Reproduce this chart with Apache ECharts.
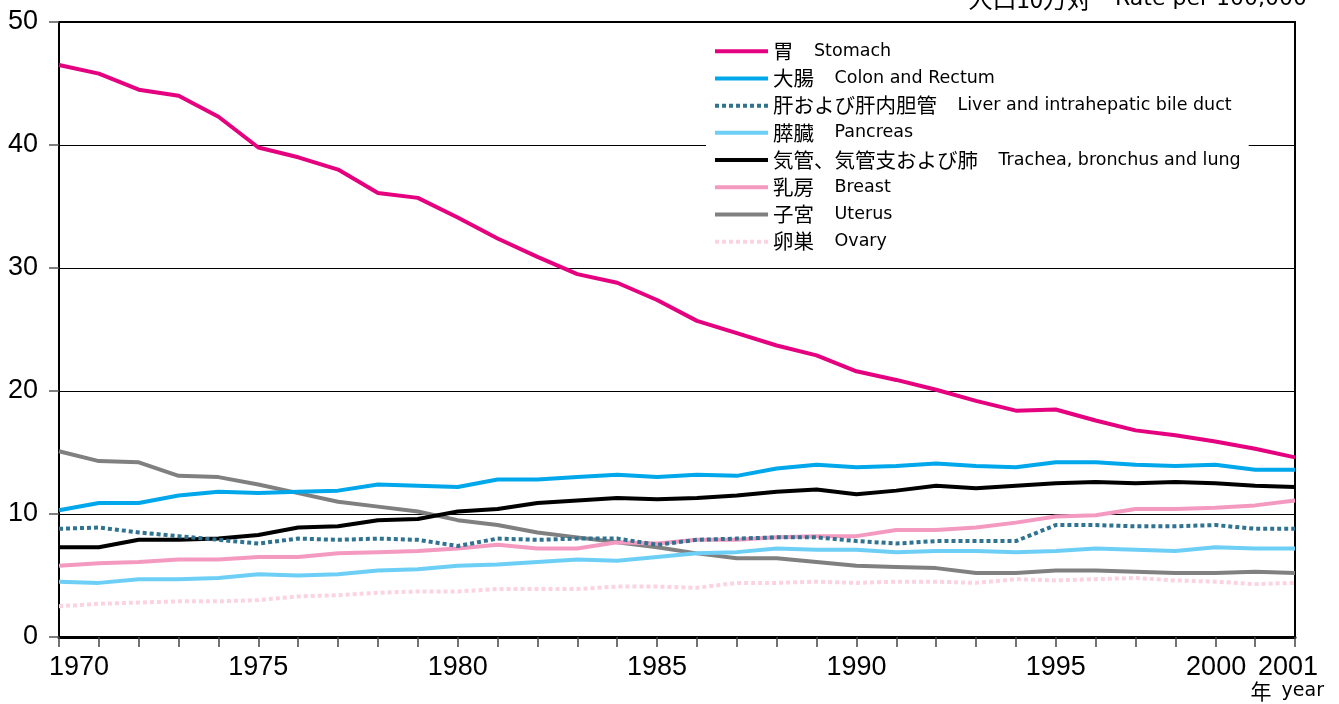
<!DOCTYPE html>
<html>
<head>
<meta charset="utf-8">
<title>部位別がん死亡率</title>
<script src="https://cdn.jsdelivr.net/npm/echarts@6/dist/echarts.min.js"></script>
<style>
  html, body { margin: 0; padding: 0; background: #fff; }
  #chart { width: 1339px; height: 704px; }
</style>
</head>
<body>
<div id="chart"></div>
<script>
// 年 (x軸)
var years = [1970, 1971, 1972, 1973, 1974, 1975, 1976, 1977, 1978, 1979,
  1980, 1981, 1982, 1983, 1984, 1985, 1986, 1987, 1988, 1989,
  1990, 1991, 1992, 1993, 1994, 1995, 1996, 1997, 1998, 1999, 2000, 2001];
var yearLabels = [1970, 1975, 1980, 1985, 1990, 1995, 2000, 2001];

// 人口10万対
var stomach = [46.5, 45.8, 44.5, 44.0, 42.3, 39.8, 39.0, 38.0, 36.1, 35.7,
  34.1, 32.4, 30.9, 29.5, 28.8, 27.4, 25.7, 24.7, 23.7, 22.9,
  21.6, 20.9, 20.1, 19.2, 18.4, 18.5, 17.6, 16.8, 16.4, 15.9, 15.3, 14.6];
var colon = [10.3, 10.9, 10.9, 11.5, 11.8, 11.7, 11.8, 11.9, 12.4, 12.3,
  12.2, 12.8, 12.8, 13.0, 13.2, 13.0, 13.2, 13.1, 13.7, 14.0,
  13.8, 13.9, 14.1, 13.9, 13.8, 14.2, 14.2, 14.0, 13.9, 14.0, 13.6, 13.6];
var liver = [8.8, 8.9, 8.5, 8.2, 7.9, 7.6, 8.0, 7.9, 8.0, 7.9,
  7.4, 8.0, 7.9, 8.0, 8.0, 7.5, 7.9, 8.0, 8.1, 8.1,
  7.8, 7.6, 7.8, 7.8, 7.8, 9.1, 9.1, 9.0, 9.0, 9.1, 8.8, 8.8];
var pancreas = [4.5, 4.4, 4.7, 4.7, 4.8, 5.1, 5.0, 5.1, 5.4, 5.5,
  5.8, 5.9, 6.1, 6.3, 6.2, 6.5, 6.8, 6.9, 7.2, 7.1,
  7.1, 6.9, 7.0, 7.0, 6.9, 7.0, 7.2, 7.1, 7.0, 7.3, 7.2, 7.2];
var lung = [7.3, 7.3, 7.9, 7.9, 8.0, 8.3, 8.9, 9.0, 9.5, 9.6,
  10.2, 10.4, 10.9, 11.1, 11.3, 11.2, 11.3, 11.5, 11.8, 12.0,
  11.6, 11.9, 12.3, 12.1, 12.3, 12.5, 12.6, 12.5, 12.6, 12.5, 12.3, 12.2];
var breast = [5.8, 6.0, 6.1, 6.3, 6.3, 6.5, 6.5, 6.8, 6.9, 7.0,
  7.2, 7.5, 7.2, 7.2, 7.7, 7.6, 7.9, 7.9, 8.1, 8.2,
  8.2, 8.7, 8.7, 8.9, 9.3, 9.8, 9.9, 10.4, 10.4, 10.5, 10.7, 11.1];
var uterus = [15.1, 14.3, 14.2, 13.1, 13.0, 12.4, 11.7, 11.0, 10.6, 10.2,
  9.5, 9.1, 8.5, 8.1, 7.7, 7.3, 6.8, 6.4, 6.4, 6.1,
  5.8, 5.7, 5.6, 5.2, 5.2, 5.4, 5.4, 5.3, 5.2, 5.2, 5.3, 5.2];
var ovary = [2.5, 2.7, 2.8, 2.9, 2.9, 3.0, 3.3, 3.4, 3.6, 3.7,
  3.7, 3.9, 3.9, 3.9, 4.1, 4.1, 4.0, 4.4, 4.4, 4.5,
  4.4, 4.5, 4.5, 4.4, 4.7, 4.6, 4.7, 4.8, 4.6, 4.5, 4.3, 4.4];

var seriesNames = [
  ['胃', 'Stomach'],
  ['大腸', 'Colon and Rectum'],
  ['肝および肝内胆管', 'Liver and intrahepatic bile duct'],
  ['膵臓', 'Pancreas'],
  ['気管、気管支および肺', 'Trachea, bronchus and lung'],
  ['乳房', 'Breast'],
  ['子宮', 'Uterus'],
  ['卵巣', 'Ovary']
];
var seriesData = [stomach, colon, liver, pancreas, lung, breast, uterus, ovary];
var colors = ['#e5007f', '#00a7ea', '#2f7390', '#6dcff6', '#000000', '#f49ac1', '#808080', '#fcd3e1'];
var lineTypes = ['solid', 'solid', [4, 3], 'solid', 'solid', 'solid', 'solid', [4, 3]];

var FONT = '"Liberation Sans", "Noto Sans CJK JP", sans-serif';
var FONT_EN = '"DejaVu Sans", "Noto Sans CJK JP", sans-serif';
var FONT_JA = '"Noto Sans CJK JP", sans-serif';

function pairs(values) {
  var res = [];
  for (var i = 0; i < years.length; i++) {
    res.push([years[i], values[i]]);
  }
  return res;
}

var series = [];
for (var i = seriesData.length - 1; i >= 0; i--) {
  series.push({
    name: seriesNames[i][0],
    type: 'line',
    symbol: 'none',
    data: pairs(seriesData[i]),
    z: 10 - i,
    lineStyle: { color: colors[i], width: 4, type: lineTypes[i] },
    itemStyle: { color: colors[i] }
  });
}

var enName = {};
seriesNames.forEach(function (n) { enName[n[0]] = n[1]; });

var myChart = echarts.init(document.getElementById('chart'));
var option = {
  animation: false,
  backgroundColor: '#fff',
  textStyle: { fontFamily: FONT },
  grid: {
    left: 59, right: 44, top: 22, bottom: 67,
    containLabel: false,
    outerBoundsMode: 'none',
    show: true,
    borderColor: '#000',
    borderWidth: 2
  },
  legend: {
    orient: 'vertical',
    left: 706,
    top: 39,
    padding: [2, 8, 4, 7],
    backgroundColor: '#fff',
    itemWidth: 53,
    itemHeight: 14,
    itemGap: 6.7,
    z: 20,
    itemStyle: { opacity: 0 },
    lineStyle: { width: 4 },
    data: seriesNames.map(function (n) { return n[0]; }),
    formatter: function (name) {
      return '{ja|' + name + '　}{en|' + enName[name] + '}';
    },
    textStyle: {
      rich: {
        ja: { fontFamily: FONT_JA, fontSize: 20.5, color: '#000', lineHeight: 18 },
        en: { fontFamily: FONT_EN, fontSize: 17.5, color: '#000', lineHeight: 18 }
      }
    }
  },
  xAxis: {
    type: 'value',
    min: 1970,
    max: 2001,
    interval: 1,
    axisLine: { show: true, lineStyle: { color: '#000', width: 3 } },
    axisTick: { show: true, inside: false, length: 10, lineStyle: { color: '#444', width: 1.5 } },
    splitLine: { show: false },
    axisLabel: {
      margin: 17,
      color: '#000',
      fontSize: 27,
      fontFamily: FONT,
      formatter: function (v) {
        if (yearLabels.indexOf(v) < 0) return '';
        if (v === 1970) return '{f|' + v + '}';
        if (v === 2000) return '{s|' + v + '}';
        if (v === 2001) return '{e|' + v + '}';
        return String(v);
      },
      rich: {
        f: { fontSize: 27, fontFamily: FONT, color: '#000', padding: [0, 0, 0, 40] },
        s: { fontSize: 27, fontFamily: FONT, color: '#000', padding: [0, 78, 0, 0] },
        e: { fontSize: 27, fontFamily: FONT, color: '#000', padding: [0, 14, 0, 0] }
      }
    }
  },
  yAxis: {
    type: 'value',
    min: 0,
    max: 50,
    interval: 10,
    axisLine: { show: true, lineStyle: { color: '#000', width: 2 } },
    axisTick: { show: true, inside: false, length: 10, lineStyle: { color: '#555', width: 1.5 } },
    splitLine: { show: true, lineStyle: { color: '#000', width: 1 } },
    axisLabel: { margin: 21, color: '#000', fontSize: 27, fontFamily: FONT, padding: [5, 0, 0, 0] }
  },
  graphic: [
    {
      type: 'text',
      right: 32,
      top: -13,
      style: {
        text: '{ja|人口10万対　}{en|Rate per 100,000}',
        rich: {
          ja: { fontFamily: FONT_JA, fontSize: 24, fill: '#000' },
          en: { fontFamily: FONT_EN, fontSize: 22, fill: '#000' }
        }
      }
    },
    {
      type: 'text',
      right: 15,
      top: 681,
      style: {
        text: '{ja|年}{en|year}',
        rich: {
          ja: { fontFamily: FONT_JA, fontSize: 21, fill: '#000', padding: [0, 10, 0, 0] },
          en: { fontFamily: FONT_EN, fontSize: 19, fill: '#000' }
        }
      }
    }
  ],
  series: series
};

myChart.setOption(option);
window.addEventListener('resize', function () {
  myChart.resize();
});
</script>
</body>
</html>
